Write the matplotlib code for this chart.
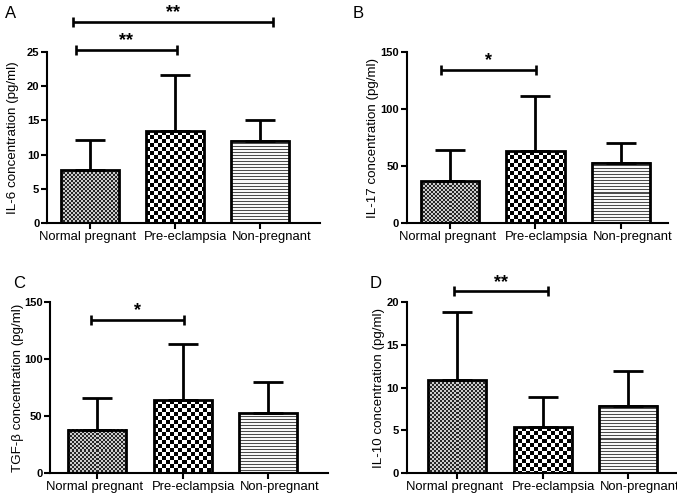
import numpy as np
import matplotlib
matplotlib.use('Agg')
from matplotlib import pyplot as plt

plt.rcParams['font.family'] = ['Liberation Sans', 'DejaVu Sans']

GROUPS = ['Normal pregnant', 'Pre-eclampsia', 'Non-pregnant']

il6_mean = [7.7, 13.4, 12.0]
il6_sd = [4.4, 8.2, 3.0]
il17_mean = [36.5, 62.8, 52.9]
il17_sd = [27.2, 48.9, 17.3]
tgfb_mean = [38.0, 64.0, 52.6]
tgfb_sd = [27.5, 49.5, 27.5]
il10_mean = [10.85, 5.38, 7.88]
il10_sd = [7.95, 3.51, 4.05]

# (x start, x end, height, stars)
il6_sig = [(-0.165, 1.02, 25.3, '**'), (-0.2, 2.15, 29.4, '**')]
il17_sig = [(-0.11, 1.01, 134.5, '*')]
tgfb_sig = [(-0.07, 1.02, 134.5, '*')]
il10_sig = [(-0.04, 1.06, 21.25, '**')]

PANELS = [
  dict(letter='A', mean=il6_mean, sd=il6_sd, sig=il6_sig, ylabel='IL-6 concentration (pg/ml)',
       ticks=[0, 5, 10, 15, 20, 25], rect=[0.0694, 0.5513, 0.4033, 0.3441], xlim=(-0.506, 2.706),
       letter_xy=(5, 13), ylabel_dx=34),
  dict(letter='B', mean=il17_mean, sd=il17_sd, sig=il17_sig, ylabel='IL-17 concentration (pg/ml)',
       ticks=[0, 50, 100, 150], rect=[0.6007, 0.5513, 0.386, 0.3441], xlim=(-0.506, 2.55),
       letter_xy=(353, 13), ylabel_dx=34),
  dict(letter='C', mean=tgfb_mean, sd=tgfb_sd, sig=tgfb_sig, ylabel='TGF-β concentration (pg/ml)',
       ticks=[0, 50, 100, 150], rect=[0.0739, 0.0483, 0.4106, 0.344], xlim=(-0.55, 2.70),
       letter_xy=(13, 283), ylabel_dx=32),
  dict(letter='D', mean=il10_mean, sd=il10_sd, sig=il10_sig, ylabel='IL-10 concentration (pg/ml)',
       ticks=[0, 5, 10, 15, 20], rect=[0.6007, 0.0483, 0.4155, 0.344], xlim=(-0.594, 2.70),
       letter_xy=(370, 283), ylabel_dx=28),
]

WIDTH = 0.68
LABEL_SHIFT = [-2.5, 11, 11.5]  # px, group labels are spread out like in the original


def texture(kind, w, h):
  yy, xx = np.mgrid[0:h, 0:w]
  if kind == 0:
    c = 2
    img = np.where(((xx // c) + (yy // c)) % 2 == 0, 0.15, 0.8)
  elif kind == 1:
    c = 4
    img = np.where(((xx // c) + (yy // c)) % 2 == 0, 0.0, 1.0)
  else:
    img = np.where(yy % 3 == 0, 0.3, 0.97)
  return img


fig = plt.figure(figsize=(6.77, 4.97), dpi=100)

for p in PANELS:
  ax = fig.add_axes(p['rect'])
  x = np.arange(len(GROUPS))
  ax.set_xlim(*p['xlim'])
  ax.set_ylim(p['ticks'][0], p['ticks'][-1])

  bars = ax.bar(x, p['mean'], width=WIDTH, facecolor='none', edgecolor='black', linewidth=2.0, zorder=3)
  for i, b in enumerate(bars):
    x0, y0 = b.get_x(), b.get_y()
    x1, y1 = x0 + b.get_width(), y0 + b.get_height()
    (px0, py0), (px1, py1) = ax.transData.transform([(x0, y0), (x1, y1)])
    img = texture(i, max(int(round(px1 - px0)), 1), max(int(round(py1 - py0)), 1))
    ax.imshow(img, extent=(x0, x1, y0, y1), cmap='gray', vmin=0, vmax=1,
              interpolation='nearest', aspect='auto', zorder=2)

  ax.errorbar(x, p['mean'], yerr=[np.zeros(len(x)), p['sd']], fmt='none', ecolor='black',
              elinewidth=2.0, capsize=11, capthick=2.0, zorder=2.5)
  ax.set_xlim(*p['xlim'])
  ax.set_ylim(p['ticks'][0], p['ticks'][-1])

  for xs, xe, y, stars in p['sig']:
    ax.plot([xs, xe], [y, y], color='black', lw=1.9, marker='|', markersize=7, mew=1.9,
            clip_on=False, solid_capstyle='butt')
    ax.annotate(stars, ((xs + xe) / 2, y), xytext=(0, 0.5), textcoords='offset points',
                ha='center', va='bottom', fontsize=13, fontweight='bold', annotation_clip=False)

  ax.spines['top'].set_visible(False)
  ax.spines['right'].set_visible(False)
  ax.spines['left'].set_linewidth(1.5)
  ax.spines['bottom'].set_linewidth(1.5)
  ax.set_xticks(x)
  ax.set_xticklabels([''] * len(x))
  for xi, name, dx in zip(x, GROUPS, LABEL_SHIFT):
    ax.annotate(name, (xi, 0), xycoords=('data', 'axes fraction'), xytext=(dx * 0.72, -5.5),
                textcoords='offset points', ha='center', va='top', fontsize=9.4,
                annotation_clip=False)
  ax.set_yticks(p['ticks'])
  ax.set_yticklabels([str(t) for t in p['ticks']], fontsize=8, fontweight='bold')
  ax.tick_params(axis='both', width=1.5, length=4, pad=1.5)
  ax.set_ylabel(p['ylabel'], fontsize=9.6)
  ax.yaxis.label.set_verticalalignment('center')
  ax.yaxis.set_label_coords(-p['ylabel_dx'] / (p['rect'][2] * 677), 0.5)

  lx, ly = p['letter_xy']
  fig.text(lx / 677, 1 - ly / 497, p['letter'], fontsize=12, va='center', ha='left')

fig.savefig('out.png', dpi=100)
